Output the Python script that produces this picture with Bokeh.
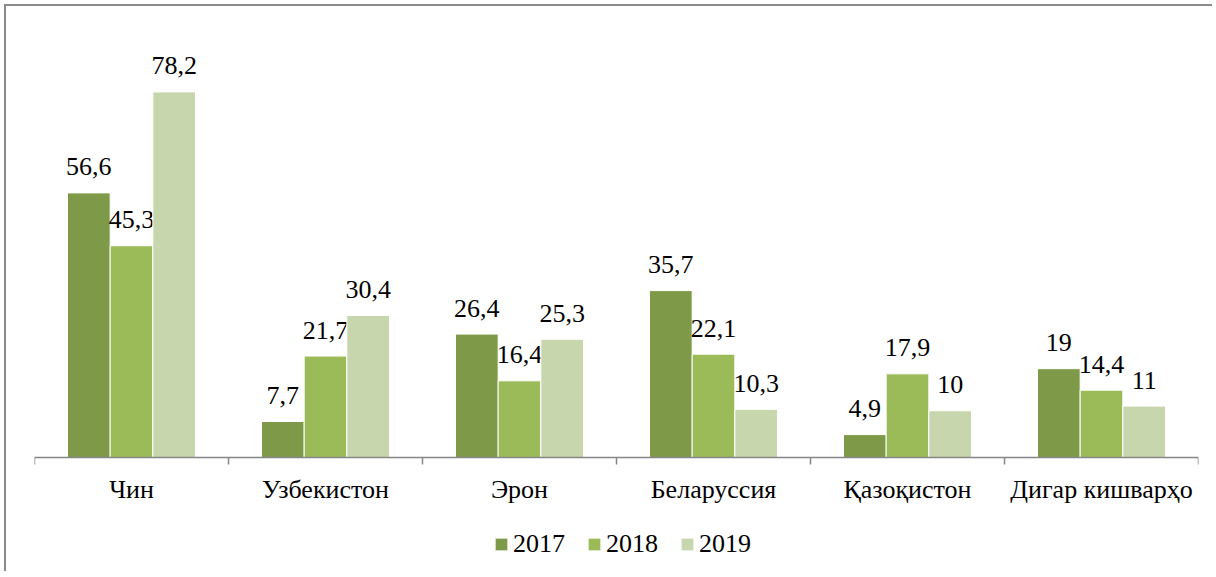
from bokeh.plotting import figure
from bokeh.models import (ColumnDataSource, Range1d, FixedTicker, Legend, LegendItem)
from bokeh.core.properties import value
from bokeh.embed import file_html
from bokeh.resources import INLINE

categories = ["Чин", "Узбекистон", "Эрон", "Беларуссия", "Қазоқистон", "Дигар кишварҳо"]
years = ["2017", "2018", "2019"]
v2017 = [56.6, 7.7, 26.4, 35.7, 4.9, 19]
v2018 = [45.3, 21.7, 16.4, 22.1, 17.9, 14.4]
v2019 = [78.2, 30.4, 25.3, 10.3, 10, 11]
series = [v2017, v2018, v2019]
colors = ["#7e9a48", "#9bbb59", "#c7d6ad"]

FONT = "Liberation Serif"
FS = "26px"
BAR_W = 0.22

p = figure(width=1208, height=567, output_backend="svg", toolbar_location=None,
           x_range=Range1d(0, len(categories)), y_range=Range1d(-24.81, 96.47),
           min_border_left=28, min_border_right=16, min_border_top=0, min_border_bottom=0)
p.styles = {"border-top": "2px solid #8a8a8a", "border-left": "2px solid #8a8a8a",
            "margin-left": "4px", "margin-top": "4px"}
p.xgrid.visible = False
p.ygrid.visible = False
p.yaxis.visible = False
p.outline_line_color = None

offsets = [-BAR_W, 0.0, BAR_W]
renderers = []
for vals, col, off, yr in zip(series, colors, offsets, years):
    xs = [i + 0.5 + off for i in range(len(categories))]
    labels = [f"{v:g}".replace(".", ",") for v in vals]
    src = ColumnDataSource(dict(x=xs, top=vals, label=labels))
    r = p.vbar(x="x", top="top", bottom=0, width=BAR_W, source=src, fill_color=col,
               line_color="white", line_width=1)
    renderers.append(r)
    p.text(x="x", y="top", text="label", source=src, text_align="center",
           text_baseline="alphabetic", y_offset=-26, text_font=value(FONT),
           text_font_size=FS, text_color="black")

ax = p.xaxis[0]
ax.fixed_location = 0
ax.ticker = FixedTicker(ticks=[i + 0.5 for i in range(len(categories))],
                        minor_ticks=list(range(len(categories) + 1)))
ax.major_label_overrides = {i + 0.5: c for i, c in enumerate(categories)}
ax.major_tick_line_color = None
ax.major_tick_out = 0
ax.major_tick_in = 0
ax.minor_tick_out = 7
ax.minor_tick_in = 0
ax.minor_tick_line_color = "#868686"
ax.minor_tick_line_width = 1.5
ax.axis_line_color = "#868686"
ax.axis_line_width = 1.5
ax.major_label_standoff = 10
ax.major_label_text_font = FONT
ax.major_label_text_font_size = FS
ax.major_label_text_color = "black"

legend = Legend(items=[LegendItem(label=yr, renderers=[r]) for yr, r in zip(years, renderers)],
                orientation="horizontal", location=(459, 14),
                label_text_font=FONT, label_text_font_size=FS, label_text_color="black",
                glyph_width=16, glyph_height=16, label_standoff=4, spacing=21,
                padding=0, margin=0, border_line_color=None, background_fill_alpha=0)
p.add_layout(legend, "center")

open("out.html", "w").write(file_html(p, INLINE))
